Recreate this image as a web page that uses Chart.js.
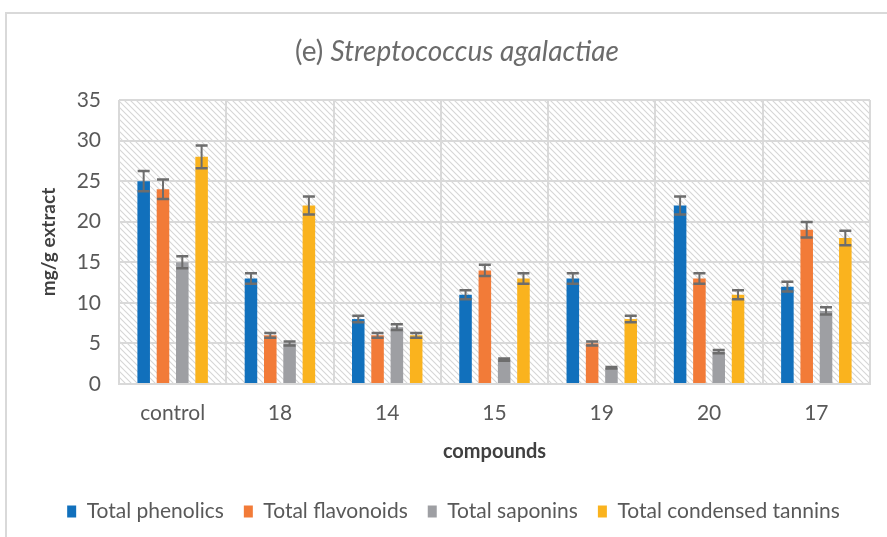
<!DOCTYPE html>
<html>
<head>
<meta charset="utf-8">
<script src="https://cdn.jsdelivr.net/npm/chart.js@4.4.1/dist/chart.umd.min.js"></script>
<style>
  html, body { margin: 0; padding: 0; background: #fff; overflow: hidden; }
</style>
</head>
<body>
<canvas id="myChart" width="887" height="537"></canvas>
<script>
const categories = ['control', '18', '14', '15', '19', '20', '17'];
const yTicks = [0, 5, 10, 15, 20, 25, 30, 35];

const phenolics = [25, 13, 8, 11, 13, 22, 12];
const flavonoids = [24, 6, 6, 14, 5, 13, 19];
const saponins = [15, 5, 7, 3, 2, 4, 9];
const tannins = [28, 22, 6, 13, 8, 11, 18];

// error bar half-heights
const phenolicsErr = [1.25, 0.65, 0.4, 0.55, 0.65, 1.1, 0.6];
const flavonoidsErr = [1.2, 0.3, 0.3, 0.7, 0.25, 0.65, 0.95];
const saponinsErr = [0.75, 0.25, 0.35, 0.15, 0.1, 0.2, 0.45];
const tanninsErr = [1.4, 1.1, 0.3, 0.65, 0.4, 0.55, 0.9];

const FONT = "Lato, 'Liberation Sans', sans-serif";
const TEXT = '#595959';
const GRID = '#d9d9d9';

// hatched plot background
const makeHatch = () => {
  const c = document.createElement('canvas');
  c.width = 6; c.height = 6;
  const g = c.getContext('2d');
  g.fillStyle = '#fff';
  g.fillRect(0, 0, 6, 6);
  g.strokeStyle = '#d6d6d6';
  g.lineWidth = 1.1;
  g.beginPath();
  g.moveTo(-1, -1); g.lineTo(7, 7);
  g.moveTo(-4, 2); g.lineTo(2, 8);
  g.moveTo(2, -4); g.lineTo(8, 2);
  g.stroke();
  return g.createPattern(c, 'repeat');
};

const hatchBg = {
  id: 'hatchBg',
  beforeDraw(chart) {
    const { ctx, chartArea: a } = chart;
    ctx.save();
    // outer chart border (cropped on right/bottom)
    ctx.strokeStyle = GRID;
    ctx.lineWidth = 2;
    ctx.strokeRect(6, 13, 1000, 1000);
    ctx.fillStyle = makeHatch();
    ctx.fillRect(a.left, a.top, a.right - a.left, a.bottom - a.top);
    ctx.restore();
  }
};

const titlePlugin = {
  id: 'mixedTitle',
  afterDraw(chart) {
    const ctx = chart.ctx;
    const part1 = '(e) ';
    const part2 = 'Streptococcus agalactiae';
    ctx.save();
    ctx.fillStyle = '#6b6b6b';
    ctx.textBaseline = 'middle';
    ctx.font = `28px ${FONT}`;
    const w1 = ctx.measureText(part1).width;
    ctx.font = `italic 28px ${FONT}`;
    const w2 = ctx.measureText(part2).width;
    const cx = 457;
    let x = cx - (w1 + w2) / 2;
    ctx.font = `28px ${FONT}`;
    ctx.fillText(part1, x, 52);
    ctx.font = `italic 28px ${FONT}`;
    ctx.fillText(part2, x + w1, 52);
    ctx.restore();
  }
};

const errorBars = {
  id: 'errorBars',
  afterDatasetsDraw(chart) {
    const { ctx, scales: { y } } = chart;
    ctx.save();
    ctx.strokeStyle = '#6d6d6d';
    chart.data.datasets.forEach((ds, i) => {
      const meta = chart.getDatasetMeta(i);
      meta.data.forEach((bar, j) => {
        const v = ds.data[j];
        const e = ds.errors[j];
        const top = y.getPixelForValue(v + e);
        const bot = y.getPixelForValue(v - e);
        ctx.lineWidth = 2;
        ctx.beginPath();
        ctx.moveTo(bar.x, top);
        ctx.lineTo(bar.x, bot);
        ctx.stroke();
        ctx.lineWidth = 2.5;
        ctx.beginPath();
        ctx.moveTo(bar.x - 6, top); ctx.lineTo(bar.x + 6, top);
        ctx.moveTo(bar.x - 6, bot); ctx.lineTo(bar.x + 6, bot);
        ctx.stroke();
      });
    });
    ctx.restore();
  }
};

const ds = (label, data, errors, color) => ({
  label, data, errors,
  backgroundColor: color,
  borderWidth: 0,
  categoryPercentage: 0.72,
  barPercentage: 0.65
});

new Chart(document.getElementById('myChart'), {
  type: 'bar',
  data: {
    labels: categories,
    datasets: [
      ds('Total phenolics', phenolics, phenolicsErr, '#1170bc'),
      ds('Total flavonoids', flavonoids, flavonoidsErr, '#f27b38'),
      ds('Total saponins', saponins, saponinsErr, '#9e9fa3'),
      ds('Total condensed tannins', tannins, tanninsErr, '#fab31e')
    ]
  },
  options: {
    responsive: false,
    animation: false,
    layout: { padding: { top: 100, left: 37, right: 17, bottom: 5 } },
    plugins: {
      title: { display: false },
      tooltip: { enabled: false },
      legend: {
        position: 'bottom',
        labels: {
          font: { family: FONT, size: 21 },
          color: TEXT,
          boxWidth: 9,
          boxHeight: 12,
          padding: 20
        }
      }
    },
    scales: {
      x: {
        grid: { color: GRID, lineWidth: 2, drawTicks: false, offset: true },
        border: { color: GRID, width: 2 },
        ticks: { font: { family: FONT, size: 21 }, color: TEXT, padding: 17 },
        title: {
          display: true, text: 'compounds', color: '#404040',
          font: { family: FONT, size: 20, weight: 'bold' },
          padding: { top: 0, bottom: 17 }
        },
        afterFit(scale) { scale.height = 97; }
      },
      y: {
        min: 0, max: 35,
        afterBuildTicks(scale) { scale.ticks = yTicks.map(v => ({ value: v })); },
        grid: { color: GRID, lineWidth: 2, drawTicks: false },
        border: { display: false },
        ticks: { font: { family: FONT, size: 21 }, color: TEXT, padding: 18 },
        title: {
          display: true, text: 'mg/g extract', color: '#404040',
          font: { family: FONT, size: 19, weight: 'bold' },
          padding: 0
        },
        afterFit(scale) { scale.width = 82; }
      }
    }
  },
  plugins: [hatchBg, errorBars, titlePlugin]
});
</script>
</body>
</html>
